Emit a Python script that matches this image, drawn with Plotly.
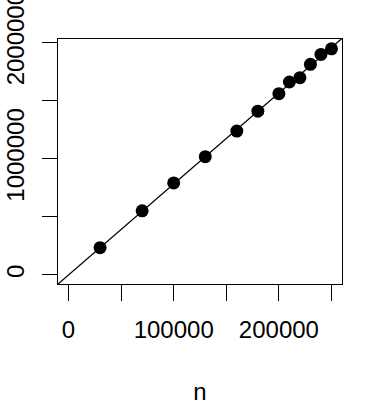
import numpy as np
import plotly.graph_objects as go

n = [30000, 70000, 100000, 130000, 160000, 180000, 200000, 210000, 220000, 230000, 240000, 250000]
t = [234600, 551400, 791100, 1016300, 1236300, 1407500, 1558200, 1658400, 1695200, 1809900, 1895500, 1943500]

x_ticks = [0, 50000, 100000, 150000, 200000, 250000]
x_labels = ["0", "", "100000", "", "200000", ""]
y_ticks = [0, 500000, 1000000, 1500000, 2000000]
y_labels = ["0", "", "1000000", "", "2000000"]

x_lo, x_hi = 0, 250000
y_lo, y_hi = 0, 1950000
xr = [x_lo - 0.04 * (x_hi - x_lo), x_hi + 0.04 * (x_hi - x_lo)]
yr = [y_lo - 0.04 * (y_hi - y_lo), y_hi + 0.04 * (y_hi - y_lo)]

nx = np.array(n, float)
ty = np.array(t, float)
slope = float((nx * ty).sum() / (nx * nx).sum())
lx = np.array(xr)
ly = slope * lx

fig = go.Figure()
fig.add_trace(go.Scatter(x=lx, y=ly, mode="lines", line=dict(color="black", width=1.3),
                         hoverinfo="skip", cliponaxis=True))
fig.add_trace(go.Scatter(x=n, y=t, mode="markers", marker=dict(color="black", size=13)))

font = dict(family="Liberation Sans, Arial, sans-serif", size=24, color="black")
fig.update_layout(
    width=369, height=409,
    margin=dict(l=58, r=27, t=39, b=125),
    plot_bgcolor="white", paper_bgcolor="white",
    showlegend=False, font=font,
)
fig.update_xaxes(range=xr, tickmode="array", tickvals=x_ticks, ticktext=x_labels,
                 ticks="outside", ticklen=16, tickwidth=1, tickcolor="black",
                 showline=True, mirror=True, linecolor="black", linewidth=1,
                 showgrid=False, zeroline=False, ticklabelstandoff=8, automargin=False,
                 title=dict(text="n", font=font, standoff=41))
fig.update_yaxes(range=yr, tickmode="array", tickvals=y_ticks, ticktext=y_labels,
                 ticks="outside", ticklen=15, tickwidth=1, tickcolor="black",
                 showline=True, mirror=True, linecolor="black", linewidth=1,
                 showgrid=False, zeroline=False, tickangle=-90, ticklabelstandoff=8,
                 automargin=False, ticklabeloverflow="allow")

fig.write_html("out.html")
